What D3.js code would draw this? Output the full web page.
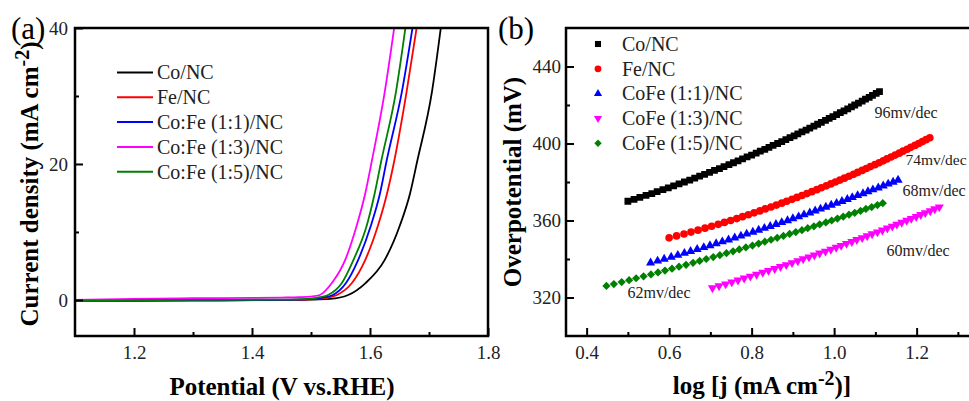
<!DOCTYPE html>
<html>
<head>
<meta charset="utf-8">
<script src="https://cdn.jsdelivr.net/npm/d3@7"></script>
<style>
body{margin:0;background:#fff;}
text{font-family:"Liberation Serif","Times New Roman",serif;}
</style>
</head>
<body>
<script>
// ---- (a) polarization curves, potential (V vs RHE) and current density
var lsvNames = ["Co/NC", "Fe/NC", "Co:Fe (1:1)/NC", "Co:Fe (1:3)/NC", "Co:Fe (1:5)/NC"];
var lsvColors = ["#000000", "#ff0000", "#0000ff", "#ff00ff", "#008000"];
var potCo  = [1.10, 1.30, 1.45, 1.50, 1.532, 1.563, 1.592, 1.625, 1.650, 1.668, 1.680, 1.705, 1.720];
var jCo    = [-0.1, -0.05, 0.0, 0.05, 0.15, 0.73, 2.45, 5.9, 10.8, 15.7, 20.4, 30.6, 40];
var potFe  = [1.10, 1.30, 1.45, 1.50, 1.525, 1.544, 1.569, 1.592, 1.613, 1.629, 1.641, 1.662, 1.679];
var jFe    = [-0.1, -0.05, 0.0, 0.1, 0.3, 0.73, 2.45, 5.9, 10.8, 15.7, 20.4, 30.6, 40];
var pot11  = [1.10, 1.30, 1.45, 1.50, 1.52, 1.537, 1.559, 1.580, 1.601, 1.617, 1.628, 1.654, 1.672];
var j11    = [-0.1, -0.05, 0.0, 0.15, 0.35, 0.73, 2.45, 5.9, 10.8, 15.7, 20.4, 30.6, 40];
var pot13  = [1.10, 1.20, 1.30, 1.40, 1.45, 1.48, 1.50, 1.515, 1.535, 1.558, 1.577, 1.592, 1.603, 1.625, 1.641];
var j13    = [0.0, 0.15, 0.25, 0.3, 0.35, 0.4, 0.5, 0.73, 2.45, 5.9, 10.8, 15.7, 20.4, 30.6, 40];
var pot15  = [1.10, 1.30, 1.45, 1.50, 1.515, 1.529, 1.552, 1.572, 1.594, 1.608, 1.619, 1.644, 1.660];
var j15    = [-0.1, 0.0, 0.05, 0.2, 0.4, 0.73, 2.45, 5.9, 10.8, 15.7, 20.4, 30.6, 40];
var potTicks = [1.2, 1.4, 1.6, 1.8];
var jTicks = [0, 20, 40];

// ---- (b) tafel plots, log j and overpotential (mV)
var tafelNames = ["Co/NC", "Fe/NC", "CoFe (1:1)/NC", "CoFe (1:3)/NC", "CoFe (1:5)/NC"];
var tafelSlopes = ["96mv/dec", "74mv/dec", "68mv/dec", "60mv/dec", "62mv/dec"];
var logjCo = [0.500,0.515,0.529,0.544,0.558,0.571,0.585,0.598,0.611,0.624,0.637,0.650,0.662,0.674,0.686,0.698,0.710,0.722,0.733,0.745,
  0.756,0.767,0.778,0.789,0.800,0.811,0.821,0.832,0.842,0.852,0.863,0.873,0.883,0.893,0.903,0.912,0.922,0.932,0.941,0.951,
  0.960,0.969,0.979,0.988,0.997,1.006,1.015,1.024,1.033,1.042,1.050,1.059,1.068,1.076,1.085,1.093,1.102,1.110];
var etaCo = [370,371,372,373,374,375,376,377,378,379,380,381,382,383,384,385,386,387,388,389,
  390,391,392,393,394,395,396,397,398,399,400,401,402,403,404,405,406,407,408,409,
  410,411,412,413,414,415,416,417,418,419,420,421,422,423,424,425,426,427];
var logjFe = [0.600,0.618,0.636,0.653,0.670,0.687,0.703,0.719,0.734,0.749,0.764,0.778,0.792,0.806,0.820,0.833,0.847,0.860,0.873,0.885,
  0.898,0.910,0.922,0.934,0.946,0.958,0.969,0.981,0.992,1.003,1.014,1.025,1.036,1.047,1.057,1.068,1.078,1.088,1.099,1.109,
  1.119,1.128,1.138,1.148,1.158,1.167,1.177,1.186,1.196,1.205,1.214,1.223,1.232];
var etaFe = [351,352,353,354,355,356,357,358,359,360,361,362,363,364,365,366,367,368,369,370,
  371,372,373,374,375,376,377,378,379,380,381,382,383,384,385,386,387,388,389,390,
  391,392,393,394,395,396,397,398,399,400,401,402,403];
var logj11 = [0.555,0.572,0.588,0.605,0.621,0.637,0.652,0.668,0.684,0.699,0.714,0.729,0.744,0.759,0.774,0.788,0.803,0.817,0.831,0.845,
  0.859,0.873,0.887,0.900,0.914,0.927,0.941,0.954,0.967,0.980,0.993,1.006,1.019,1.032,1.044,1.057,1.070,1.082,1.094,1.107,
  1.119,1.131,1.143,1.155];
var eta11 = [338,339,340,341,342,343,344,345,346,347,348,349,350,351,352,353,354,355,356,357,
  358,359,360,361,362,363,364,365,366,367,368,369,370,371,372,373,374,375,376,377,
  378,379,380,381];
var logj13 = [0.705,0.721,0.737,0.752,0.767,0.782,0.797,0.812,0.827,0.841,0.856,0.870,0.884,0.898,0.912,0.925,0.939,0.952,0.965,0.979,
  0.992,1.005,1.017,1.030,1.043,1.055,1.068,1.080,1.092,1.105,1.117,1.129,1.141,1.152,1.164,1.176,1.187,1.199,1.210,1.221,
  1.233,1.244,1.255];
var eta13 = [325,326,327,328,329,330,331,332,333,334,335,336,337,338,339,340,341,342,343,344,
  345,346,347,348,349,350,351,352,353,354,355,356,357,358,359,360,361,362,363,364,
  365,366,367];
var logj15 = [0.448,0.466,0.485,0.503,0.520,0.538,0.556,0.573,0.590,0.607,0.624,0.641,0.658,0.674,0.690,0.707,0.723,0.739,0.755,0.770,
  0.786,0.802,0.817,0.832,0.847,0.862,0.877,0.892,0.907,0.922,0.936,0.951,0.965,0.980,0.994,1.008,1.022,1.036,1.050,1.064,
  1.077,1.091,1.105,1.118];
var eta15 = [326,327,328,329,330,331,332,333,334,335,336,337,338,339,340,341,342,343,344,345,
  346,347,348,349,350,351,352,353,354,355,356,357,358,359,360,361,362,363,364,365,
  366,367,368,369];
var logjTicks = [0.4, 0.6, 0.8, 1.0, 1.2];
var etaTicks = [320, 360, 400, 440];

var W = 969, H = 401;
var svg = d3.select("body").append("svg").attr("width", W).attr("height", H);
var tickFont = "19px";

// ================= panel (a)
var xa = d3.scaleLinear().domain([1.1, 1.8]).range([75, 488]);
var ya = d3.scaleLinear().domain([-5.3, 40]).range([336, 28]);

svg.append("clipPath").attr("id", "clipA").append("rect")
  .attr("x", 75).attr("y", 28).attr("width", 413).attr("height", 308);

var lsv = [[potCo, jCo], [potFe, jFe], [pot11, j11], [pot13, j13], [pot15, j15]];
var line = d3.line().x(function(d){ return xa(d[0]); }).y(function(d){ return ya(d[1]); })
  .curve(d3.curveMonotoneX);
var gA = svg.append("g").attr("clip-path", "url(#clipA)");
lsv.forEach(function(s, i){
  gA.append("path").datum(d3.zip(s[0], s[1]))
    .attr("d", line).attr("fill", "none")
    .attr("stroke", lsvColors[i]).attr("stroke-width", 1.8);
});

// axes with ticks pointing inward
svg.append("g").attr("transform", "translate(0,336)")
  .call(d3.axisBottom(xa).tickValues(potTicks).tickFormat(d3.format(".1f")).tickSize(-8).tickPadding(10));
svg.append("g").attr("transform", "translate(0,336)")
  .call(d3.axisBottom(xa).tickValues([1.3, 1.5, 1.7]).tickFormat("").tickSize(-4));
svg.append("g").attr("transform", "translate(75,0)")
  .call(d3.axisLeft(ya).tickValues(jTicks).tickSize(-8).tickPadding(7));
svg.append("g").attr("transform", "translate(75,0)")
  .call(d3.axisLeft(ya).tickValues([10, 30]).tickFormat("").tickSize(-4));

svg.append("rect").attr("x", 75).attr("y", 28).attr("width", 413).attr("height", 308)
  .attr("fill", "none").attr("stroke", "#000").attr("stroke-width", 2.5);

// legend (a)
var legA = svg.append("g");
lsvNames.forEach(function(n, i){
  var yy = 72.5 + i * 24.8;
  legA.append("line").attr("x1", 117).attr("x2", 153).attr("y1", yy).attr("y2", yy)
    .attr("stroke", lsvColors[i]).attr("stroke-width", 2);
  legA.append("text").attr("x", 157).attr("y", yy).attr("dy", "0.34em")
    .attr("font-size", "20px").attr("fill", "#222").text(n);
});

svg.append("text").attr("x", 282).attr("y", 395).attr("text-anchor", "middle")
  .attr("font-size", "25px").attr("font-weight", "bold").text("Potential (V vs.RHE)");
var tA = svg.append("text").attr("transform", "translate(38,184) rotate(-90)")
  .attr("text-anchor", "middle").attr("font-size", "25px").attr("font-weight", "bold");
tA.append("tspan").text("Current density (mA cm");
tA.append("tspan").attr("dy", "-0.45em").attr("font-size", "20px").text("-2");
tA.append("tspan").attr("dy", "0.36em").text(")");
svg.append("text").attr("x", 11).attr("y", 39).attr("font-size", "31px").text("(a)");

// ================= panel (b)
var xb = d3.scaleLinear().domain([0.35, 1.35]).range([566, 978.5]);
var yb = d3.scaleLinear().domain([300, 460]).range([336, 28]);

svg.append("clipPath").attr("id", "clipB").append("rect")
  .attr("x", 566).attr("y", 28).attr("width", 412.5).attr("height", 308);

var tafel = [[logjCo, etaCo], [logjFe, etaFe], [logj11, eta11], [logj13, eta13], [logj15, eta15]];
// marker shapes: square, circle, up triangle, down triangle, diamond
var shapes = [
  {type: d3.symbolSquare, size: 46, rot: 0},
  {type: d3.symbolCircle, size: 46, rot: 0},
  {type: d3.symbolTriangle, size: 36, rot: 0},
  {type: d3.symbolTriangle, size: 36, rot: 180},
  {type: d3.symbolSquare, size: 34, rot: 45}
];
var gB = svg.append("g").attr("clip-path", "url(#clipB)");
tafel.forEach(function(s, i){
  var sym = d3.symbol().type(shapes[i].type).size(shapes[i].size);
  gB.selectAll(".m" + i).data(d3.zip(s[0], s[1])).enter().append("path")
    .attr("transform", function(d){ return "translate(" + xb(d[0]) + "," + yb(d[1]) + ") rotate(" + shapes[i].rot + ")"; })
    .attr("d", sym).attr("fill", lsvColors[i]);
});

svg.append("g").attr("transform", "translate(0,336)")
  .call(d3.axisBottom(xb).tickValues(logjTicks).tickFormat(d3.format(".1f")).tickSize(-8).tickPadding(10));
svg.append("g").attr("transform", "translate(0,336)")
  .call(d3.axisBottom(xb).tickValues([0.5, 0.7, 0.9, 1.1, 1.3]).tickFormat("").tickSize(-4));
svg.append("g").attr("transform", "translate(566,0)")
  .call(d3.axisLeft(yb).tickValues(etaTicks).tickSize(-8).tickPadding(5));
svg.append("g").attr("transform", "translate(566,0)")
  .call(d3.axisLeft(yb).tickValues([340, 380, 420]).tickFormat("").tickSize(-4));

svg.append("rect").attr("x", 566).attr("y", 28).attr("width", 412.5).attr("height", 308)
  .attr("fill", "none").attr("stroke", "#000").attr("stroke-width", 2.5);

// slope labels, placed in data units (the 74 one pulled in a bit so it fits)
var slopePos = [[1.098, 416], [1.173, 391.5], [1.166, 375.5], [1.127, 344.5], [0.499, 322.5]];
slopePos.forEach(function(p, i){
  svg.append("text").attr("x", xb(p[0])).attr("y", yb(p[1])).attr("dy", "0.34em")
    .attr("font-size", i == 1 ? "15.5px" : "16px").attr("fill", "#222").text(tafelSlopes[i]);
});

// legend (b)
var legB = svg.append("g");
tafelNames.forEach(function(n, i){
  var yy = 44 + i * 24.8;
  var sym = d3.symbol().type(shapes[i].type).size(shapes[i].size * 0.8);
  legB.append("path").attr("transform", "translate(598," + yy + ") rotate(" + shapes[i].rot + ")")
    .attr("d", sym).attr("fill", lsvColors[i]);
  legB.append("text").attr("x", 622).attr("y", yy).attr("dy", "0.34em")
    .attr("font-size", "20px").attr("fill", "#222").text(n);
});

svg.append("text").attr("x", 762).attr("y", 394).attr("text-anchor", "middle")
  .attr("font-size", "25px").attr("font-weight", "bold")
  .call(function(t){
    t.append("tspan").text("log [j (mA cm");
    t.append("tspan").attr("dy", "-0.45em").attr("font-size", "20px").text("-2");
    t.append("tspan").attr("dy", "0.36em").text(")]");
  });
svg.append("text").attr("transform", "translate(521,182) rotate(-90)")
  .attr("text-anchor", "middle").attr("font-size", "25px").attr("font-weight", "bold")
  .text("Overpotential (mV)");
svg.append("text").attr("x", 498).attr("y", 39).attr("font-size", "31px").text("(b)");

// common tick styling
svg.selectAll(".tick text").attr("font-size", tickFont).attr("fill", "#222")
  .attr("font-family", "'Liberation Serif','Times New Roman',serif");
svg.selectAll(".tick line").attr("stroke", "#000").attr("stroke-width", 2);
svg.selectAll(".domain").remove();
</script>
</body>
</html>
